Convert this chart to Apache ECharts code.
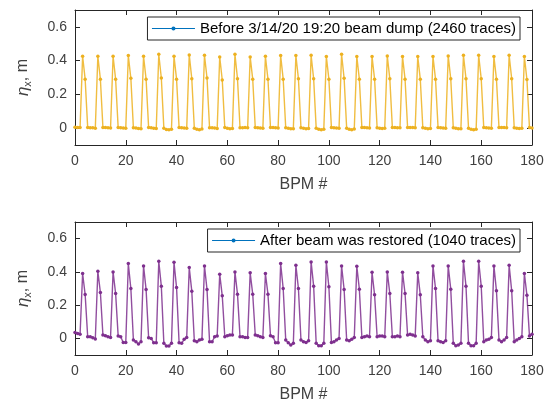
<!DOCTYPE html>
<html>
<head>
<meta charset="utf-8">
<script src="https://cdn.jsdelivr.net/npm/echarts@6/dist/echarts.min.js"></script>
<style>html,body{margin:0;padding:0;background:#fff}#c{width:553px;height:407px}</style>
</head>
<body>
<div id="c"></div>
<script>
// BPM index 0..180
const bpm = Array.from({length: 181}, (_, i) => i);
const xTicks = [0, 20, 40, 60, 80, 100, 120, 140, 160, 180];
const yTicks = [0, 0.2, 0.4, 0.6];

const beforeName = 'Before 3/14/20 19:20 beam dump (2460 traces)';
const afterName = 'After beam was restored (1040 traces)';

const beforeEta = [
  0.005,0.004,0.003,
  0.426,0.29,0.003,0.002,0.002,0.0,
  0.426,0.29,0.004,0.003,0.002,0.001,
  0.426,0.29,0.003,0.002,0.001,0.0,
  0.43,0.295,0.002,0.001,-0.002,-0.003,
  0.426,0.29,0.003,0.002,0.0,-0.002,
  0.438,0.297,0.0,-0.008,-0.01,-0.006,
  0.426,0.29,0.003,0.002,0.001,0.0,
  0.434,0.293,0.0,-0.006,-0.01,-0.005,
  0.432,0.297,0.002,0.002,0.001,-0.002,
  0.422,0.285,0.003,0.0,-0.004,-0.002,
  0.438,0.293,0.002,0.002,0.003,0.002,
  0.422,0.29,0.003,0.002,0.001,0.0,
  0.426,0.29,0.003,0.003,0.002,0.001,
  0.43,0.29,0.002,0.0,-0.004,-0.003,
  0.43,0.293,0.002,0.0,-0.003,-0.002,
  0.432,0.292,0.0,-0.006,-0.01,-0.006,
  0.424,0.29,0.003,0.002,0.001,0.0,
  0.438,0.295,0.0,-0.007,-0.01,-0.005,
  0.424,0.29,0.003,0.003,0.002,0.001,
  0.424,0.29,0.002,0.0,-0.002,0.0,
  0.428,0.292,0.003,0.003,0.002,0.002,
  0.424,0.29,0.004,0.003,0.003,0.002,
  0.424,0.29,0.002,0.0,-0.003,-0.002,
  0.424,0.29,0.003,0.002,0.001,0.0,
  0.428,0.292,0.002,0.0,-0.004,-0.003,
  0.432,0.293,0.0,-0.007,-0.01,-0.006,
  0.432,0.292,0.003,0.002,0.001,0.0,
  0.424,0.29,0.004,0.004,0.003,0.002,
  0.432,0.293,0.002,0.0,-0.002,0.0,
  0.424,0.288,0.003,0.001
];

const afterEta = [
  0.035,0.03,0.025,
  0.39,0.264,0.01,0.01,0.004,-0.004,
  0.404,0.276,0.02,0.016,0.01,0.006,
  0.40,0.27,0.015,0.01,-0.025,-0.025,
  0.45,0.30,-0.01,-0.02,-0.034,-0.02,
  0.436,0.294,0.004,0.0,-0.026,-0.026,
  0.464,0.314,-0.03,-0.046,-0.046,-0.03,
  0.458,0.306,-0.026,-0.03,-0.006,0.006,
  0.426,0.284,-0.014,-0.02,-0.01,-0.006,
  0.436,0.294,-0.02,-0.02,0.01,0.014,
  0.386,0.256,0.01,0.016,0.02,0.02,
  0.40,0.266,0.01,0.01,0.006,0.006,
  0.394,0.266,0.02,0.016,0.01,0.006,
  0.39,0.266,0.016,0.01,-0.026,-0.026,
  0.45,0.30,-0.01,-0.026,-0.04,-0.03,
  0.44,0.30,-0.01,-0.02,-0.025,-0.015,
  0.46,0.314,-0.03,-0.045,-0.045,-0.03,
  0.46,0.31,-0.025,-0.02,-0.01,0.0,
  0.436,0.294,-0.01,-0.015,-0.005,0.005,
  0.434,0.296,0.005,0.01,0.015,0.01,
  0.398,0.262,0.01,0.015,0.015,0.01,
  0.40,0.27,0.01,0.01,0.015,0.01,
  0.398,0.27,0.02,0.025,0.02,0.015,
  0.394,0.262,0.01,-0.01,-0.02,-0.015,
  0.436,0.30,-0.015,-0.02,-0.025,-0.015,
  0.436,0.296,-0.03,-0.045,-0.04,-0.03,
  0.464,0.314,-0.03,-0.045,-0.045,-0.03,
  0.464,0.314,-0.02,-0.01,-0.005,0.005,
  0.436,0.286,-0.01,-0.02,-0.01,0.005,
  0.44,0.286,-0.02,-0.01,0.0,0.01,
  0.39,0.26,0.015,0.025
];

const FONT = 'Liberation Sans, Arial, Helvetica, sans-serif';
const AX = '#262626';
const LBL = '#404040';

function xAxes(gi) {
  return [
    {
      gridIndex: gi, type: 'value', min: 0, max: 180, interval: 20, position: 'bottom',
      name: 'BPM #', nameLocation: 'middle', nameGap: 32,
      nameTextStyle: {fontFamily: FONT, fontSize: 16, color: LBL},
      axisLine: {show: true, onZero: false, lineStyle: {color: AX, width: 1}},
      axisTick: {show: true, inside: true, length: 5, lineStyle: {color: AX}},
      axisLabel: {show: true, fontFamily: FONT, fontSize: 14, color: LBL, margin: 9, customValues: xTicks},
      splitLine: {show: false}
    },
    {
      gridIndex: gi, type: 'value', min: 0, max: 180, interval: 20, position: 'top',
      axisLine: {show: true, onZero: false, lineStyle: {color: AX, width: 1}},
      axisTick: {show: true, inside: true, length: 5, lineStyle: {color: AX}},
      axisLabel: {show: false}, splitLine: {show: false}
    }
  ];
}
function yAxes(gi) {
  return [
    {
      gridIndex: gi, type: 'value', min: -0.1, max: 0.7, position: 'left',
      name: '{e|η}{s|x}{t|, m}', nameLocation: 'middle', nameGap: 42, nameRotate: 90,
      nameTextStyle: {
        fontFamily: FONT, color: LBL,
        rich: {
          e: {fontFamily: FONT, fontSize: 17, fontStyle: 'italic', color: LBL},
          s: {fontFamily: FONT, fontSize: 11, color: LBL, padding: [9, 0, 0, 0]},
          t: {fontFamily: FONT, fontSize: 16, color: LBL}
        }
      },
      axisLine: {show: true, onZero: false, lineStyle: {color: AX, width: 1}},
      axisTick: {show: true, inside: true, length: 5, customValues: yTicks, lineStyle: {color: AX}},
      axisLabel: {show: true, fontFamily: FONT, fontSize: 14, color: LBL, margin: 8, customValues: yTicks,
        formatter: v => (Math.abs(v) < 1e-9 ? '0' : (+v).toFixed(1))},
      splitLine: {show: false}
    },
    {
      gridIndex: gi, type: 'value', min: -0.1, max: 0.7, position: 'right',
      axisLine: {show: true, onZero: false, lineStyle: {color: AX, width: 1}},
      axisTick: {show: true, inside: true, length: 5, customValues: yTicks, lineStyle: {color: AX}},
      axisLabel: {show: false}, splitLine: {show: false}
    }
  ];
}

const legendBase = {
  right: 33, backgroundColor: '#fff', borderColor: AX, borderWidth: 1, borderRadius: 0,
  padding: [4, 4, 4, 4], itemWidth: 43, itemHeight: 5,
  lineStyle: {width: 1},
  textStyle: {fontFamily: FONT, fontSize: 15, color: '#000'}
};

const chart = echarts.init(document.getElementById('c'), null, {renderer: 'canvas'});
chart.setOption({
  animation: false,
  backgroundColor: '#fff',
  grid: [
    {left: 75, right: 21, top: 10, height: 135},
    {left: 75, right: 21, top: 222, height: 133}
  ],
  xAxis: [...xAxes(0), ...xAxes(1)],
  yAxis: [...yAxes(0), ...yAxes(1)],
  legend: [
    Object.assign({}, legendBase, {data: [beforeName], top: 17}),
    Object.assign({}, legendBase, {data: [afterName], top: 229})
  ],
  series: [
    {
      name: 'before', type: 'line', xAxisIndex: 0, yAxisIndex: 0,
      data: bpm.map((b, i) => [b, beforeEta[i]]),
      symbol: 'circle', symbolSize: 3.5, showSymbol: true,
      lineStyle: {color: '#EDB120', width: 1.4, opacity: 0.85},
      itemStyle: {color: '#EDB120'}, z: 3
    },
    {
      name: 'after', type: 'line', xAxisIndex: 2, yAxisIndex: 2,
      data: bpm.map((b, i) => [b, afterEta[i]]),
      symbol: 'circle', symbolSize: 3.5, showSymbol: true,
      lineStyle: {color: '#7E2F8E', width: 1.4, opacity: 0.85},
      itemStyle: {color: '#7E2F8E'}, z: 3
    },
    {
      name: beforeName, type: 'line', xAxisIndex: 0, yAxisIndex: 0, data: [],
      symbol: 'circle', symbolSize: 4, lineStyle: {color: '#0072BD', width: 1}, itemStyle: {color: '#0072BD'}
    },
    {
      name: afterName, type: 'line', xAxisIndex: 2, yAxisIndex: 2, data: [],
      symbol: 'circle', symbolSize: 4, lineStyle: {color: '#0072BD', width: 1}, itemStyle: {color: '#0072BD'}
    }
  ]
});
</script>
</body>
</html>
